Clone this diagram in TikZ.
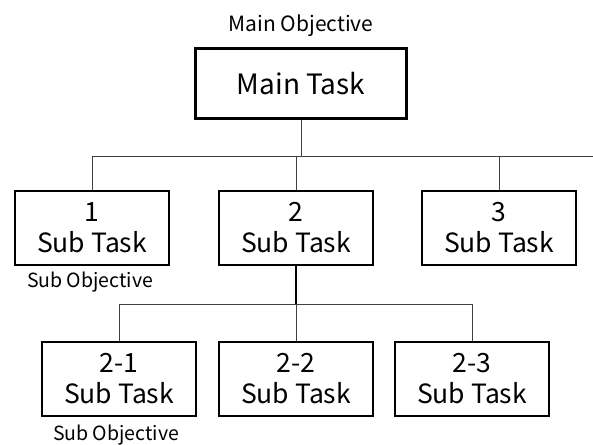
\documentclass[tikz,border=0pt]{standalone}
\usepackage{fontspec}
\setmainfont{Noto Sans CJK JP}
\usetikzlibrary{positioning}

\tikzset{
  mainbox/.style={draw,line width=3.5pt,minimum width=211pt,minimum height=70pt,
    inner sep=0pt,font=\fontsize{28}{32}\selectfont},
  taskbox/.style={draw,line width=1.2pt,minimum width=154pt,minimum height=74pt,
    inner sep=0pt,align=center,font=\fontsize{26.5}{31}\selectfont},
  objtext/.style={inner sep=0pt,font=\fontsize{19.5}{22}\selectfont},
  conn/.style={draw=black!75,line width=0.9pt},
}

\begin{document}
\begin{tikzpicture}[x=1pt,y=-1pt,node distance=204pt]
\useasboundingbox (0,0) rectangle (593,444);
\node[mainbox] (main) at (301,83.5) {Main Task};
\node[inner sep=0pt,font=\fontsize{21}{25}\selectfont,above of=main,node distance=58pt] (mainobj) {Main Objective};
% first level
\node[taskbox] (t2) at (296,228) {2\\Sub Task};
\node[taskbox,left of=t2] (t1) {1\\Sub Task};
\node[taskbox,right of=t2,node distance=203pt] (t3) {3\\Sub Task};
\node[objtext,below of=t1,node distance=54pt,xshift=-2pt] (obj1) {Sub Objective};
% second level
\node[taskbox] (t22) at (296,379) {2-2\\Sub Task};
\node[taskbox,left of=t22,node distance=177pt] (t21) {2-1\\Sub Task};
\node[taskbox,right of=t22,node distance=176pt] (t23) {2-3\\Sub Task};
\node[objtext,below of=t21,node distance=56pt,xshift=-3pt] (obj21) {Sub Objective};
% connectors
\coordinate (rend) at (593,156);
\coordinate (j2) at (296,304);
\draw[conn] (main.south) -- (main.south |- rend);
\draw[conn] (t1.north) |- (rend);
\draw[conn] (t2.north) -- (t2.north |- rend);
\draw[conn] (t3.north) -- (t3.north |- rend);
\draw[line width=1.2pt] (t2.south) -- (j2);
\draw[conn] (t21.north) |- (t23.north |- j2) -- (t23.north);
\draw[conn] (t22.north) -- (j2);
\end{tikzpicture}
\end{document}
